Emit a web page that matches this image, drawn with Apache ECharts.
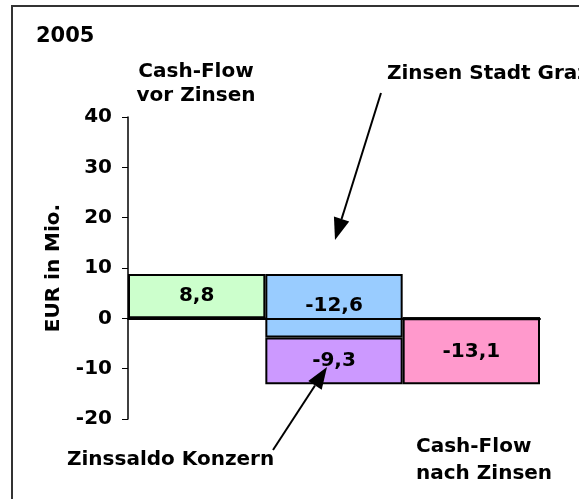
<!DOCTYPE html>
<html>
<head>
<meta charset="utf-8">
<script src="https://cdn.jsdelivr.net/npm/echarts@6/dist/echarts.min.js"></script>
<style>
  html,body{margin:0;padding:0;background:#fff;}
  #main{width:579px;height:499px;}
</style>
</head>
<body>
<div id="main"></div>
<script>
// Daten
var categories = ['Cash-Flow vor Zinsen', 'Zinsen', 'Cash-Flow nach Zinsen'];
var cashFlowVor = [8.8, '-', '-'];
var zinsenStadtGraz = [0, -12.6, 0];
var zinssaldoKonzern = [0, -9.3, 0];
var cashFlowNach = ['-', '-', -13.1];
var yTicks = {min: -20, max: 40, interval: 10};

var FONT = 'DejaVu Sans';
var FS = 20;

// unsichtbarer Sockel: die Zinsen-Saeule startet bei Cash-Flow vor Zinsen
var sockel = [0, cashFlowVor[0], 0];

function fmt(p) {
  if (typeof p.value !== 'number' || p.value === 0) return '';
  return p.value.toFixed(1).replace('.', ',');
}

function barSeries(name, data, color, stack) {
  return {
    name: name,
    type: 'bar',
    stack: stack,
    stackStrategy: 'all',
    data: data,
    barCategoryGap: 0,
    barGap: '-100%',
    itemStyle: {color: color, borderColor: '#000', borderWidth: 2},
    label: {
      show: true, position: 'inside', formatter: fmt,
      color: '#000', fontFamily: FONT, fontWeight: 'bold', fontSize: FS
    }
  };
}

// Pfeil (Linie + Spitze) als graphic
function arrow(x1, y1, x2, y2) {
  var dx = x2 - x1, dy = y2 - y1, len = Math.sqrt(dx*dx + dy*dy);
  var ux = dx/len, uy = dy/len, hl = 22, hw = 8;
  var bx = x2 - ux*hl, by = y2 - uy*hl;
  return [{
    type: 'line', z: 100,
    shape: {x1: x1, y1: y1, x2: bx, y2: by},
    style: {stroke: '#000', lineWidth: 2}
  }, {
    type: 'polygon', z: 100,
    shape: {points: [[x2, y2], [bx - uy*hw, by + ux*hw], [bx + uy*hw, by - ux*hw]]},
    style: {fill: '#000'}
  }];
}

function txt(x, y, s, align, lh) {
  return {
    type: 'text', x: x, y: y, z: 100,
    style: {
      text: s, fill: '#000', font: 'bold ' + FS + 'px "' + FONT + '"',
      textAlign: align || 'left', textVerticalAlign: 'top', lineHeight: lh || 24
    }
  };
}

var chart = echarts.init(document.getElementById('main'));
chart.setOption({
  animation: false,
  backgroundColor: '#fff',
  title: {
    text: '2005', left: 31, top: 21,
    textStyle: {fontFamily: FONT, fontWeight: 'bold', fontSize: 21, color: '#000'}
  },
  grid: {left: 128, right: 39, top: 117, bottom: 80},
  xAxis: {
    type: 'category',
    data: categories,
    z: 10,
    axisLine: {onZero: true, lineStyle: {color: '#000', width: 2}},
    axisTick: {show: false},
    axisLabel: {show: false},
    splitLine: {show: false}
  },
  yAxis: {
    type: 'value',
    min: yTicks.min, max: yTicks.max, interval: yTicks.interval,
    name: 'EUR in Mio.',
    nameLocation: 'middle',
    nameRotate: 90,
    nameGap: 64,
    nameTextStyle: {fontFamily: FONT, fontWeight: 'bold', fontSize: FS, color: '#000'},
    axisLine: {show: true, lineStyle: {color: '#000', width: 1.5}},
    axisTick: {show: true, length: 6, lineStyle: {color: '#000'}},
    axisLabel: {margin: 16, fontFamily: FONT, fontWeight: 'bold', fontSize: FS, color: '#000'},
    splitLine: {show: false}
  },
  series: [
    {
      type: 'bar', stack: 'zinsen', stackStrategy: 'all', data: sockel,
      barCategoryGap: 0, barGap: '-100%', silent: true,
      itemStyle: {color: 'rgba(0,0,0,0)', borderWidth: 0}
    },
    barSeries('Zinsen Stadt Graz', zinsenStadtGraz, '#99CCFF', 'zinsen'),
    barSeries('Zinssaldo Konzern', zinssaldoKonzern, '#CC99FF', 'zinsen'),
    barSeries('Cash-Flow vor Zinsen', cashFlowVor, '#CCFFCC', null),
    barSeries('Cash-Flow nach Zinsen', cashFlowNach, '#FF99CC', null)
  ],
  graphic: [
    {
      type: 'polyline', z: 100,
      shape: {points: [[12, 499], [12, 6], [579, 6]]},
      style: {stroke: '#333', lineWidth: 2, fill: null}
    },
    txt(196, 60, 'Cash-Flow\nvor Zinsen', 'center'),
    txt(387, 62, 'Zinsen Stadt Graz'),
    txt(67, 448, 'Zinssaldo Konzern'),
    txt(416, 433, 'Cash-Flow\nnach Zinsen', 'left', 27)
  ].concat(arrow(381, 93, 335, 240), arrow(273, 450, 327, 367))
});
</script>
</body>
</html>
